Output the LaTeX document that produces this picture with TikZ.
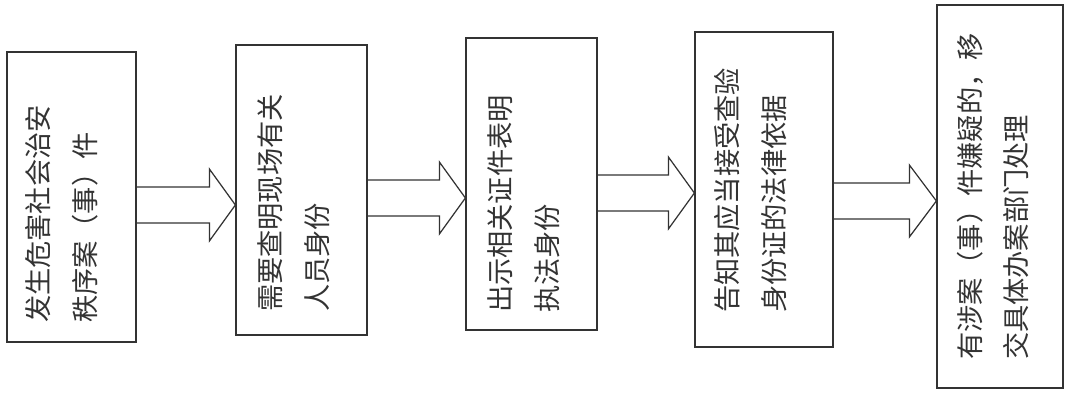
\documentclass[tikz,border=0pt]{standalone}
\usepackage{fontspec}
\newfontfamily\cjk{Noto Sans CJK SC}
\usetikzlibrary{calc}
\setlength{\lineskiplimit}{-20pt}

\def\ll{0.02}
\newcommand{\boxtext}[3]{\raisebox{#1}[0pt][0pt]{\makebox[0pt]{\parbox[t]{#2}{#3}}}}

\begin{document}
\begin{tikzpicture}[box/.style={draw=black!80,line width=0.7pt,rotate=90,inner sep=0pt,text=black!80,font=\cjk\fontsize{15.5pt}{26.5pt}\selectfont},
  flow/.style={draw=black!80,line width=0.7pt}]
\useasboundingbox (0,0) rectangle (1068*\ll,395*\ll);
\node[box,minimum width=290*\ll cm,minimum height=129*\ll cm] (b1) at ( 71.5*\ll,198*\ll) {\boxtext{0.46cm}{5.04cm}{发生危害社会治安\\秩序案（事）件}};
\node[box,minimum width=290*\ll cm,minimum height=131*\ll cm] (b2) at (301.5*\ll,205*\ll) {\boxtext{0.42cm}{4.88cm}{需要查明现场有关\\人员身份}};
\node[box,minimum width=292*\ll cm,minimum height=131*\ll cm] (b3) at (531.5*\ll,211*\ll) {\boxtext{0.42cm}{5.16cm}{出示相关证件表明\\执法身份}};
\node[box,minimum width=315*\ll cm,minimum height=138*\ll cm] (b4) at (764*\ll,205.5*\ll) {\boxtext{0.53cm}{4.94cm}{告知其应当接受查验\\身份证的法律依据}};
\node[box,minimum width=383*\ll cm,minimum height=126*\ll cm] (b5) at (1000*\ll,198.5*\ll) {\boxtext{0.4cm}{6.54cm}{有涉案（事）件嫌疑的，移\\交具体办案部门处理}};
\draw[flow] (b1.south |- 0,208*\ll) -- ($(b2.north |- 0,208*\ll)+(-26*\ll,0)$) -- ++(0,18*\ll) -- (b2.north |- 0,190*\ll) -- ++(-26*\ll,-36*\ll) -- ++(0,18*\ll) -- (b1.south |- 0,172*\ll);
\draw[flow] (b2.south |- 0,215*\ll) -- ($(b3.north |- 0,215*\ll)+(-26*\ll,0)$) -- ++(0,18*\ll) -- (b3.north |- 0,197*\ll) -- ++(-26*\ll,-36*\ll) -- ++(0,18*\ll) -- (b2.south |- 0,179*\ll);
\draw[flow] (b3.south |- 0,220*\ll) -- ($(b4.north |- 0,220*\ll)+(-26*\ll,0)$) -- ++(0,18*\ll) -- (b4.north |- 0,202*\ll) -- ++(-26*\ll,-36*\ll) -- ++(0,18*\ll) -- (b3.south |- 0,184*\ll);
\draw[flow] (b4.south |- 0,212*\ll) -- ($(b5.north |- 0,212*\ll)+(-27*\ll,0)$) -- ++(0,18*\ll) -- (b5.north |- 0,194*\ll) -- ++(-27*\ll,-36*\ll) -- ++(0,18*\ll) -- (b4.south |- 0,176*\ll);
\end{tikzpicture}
\end{document}
